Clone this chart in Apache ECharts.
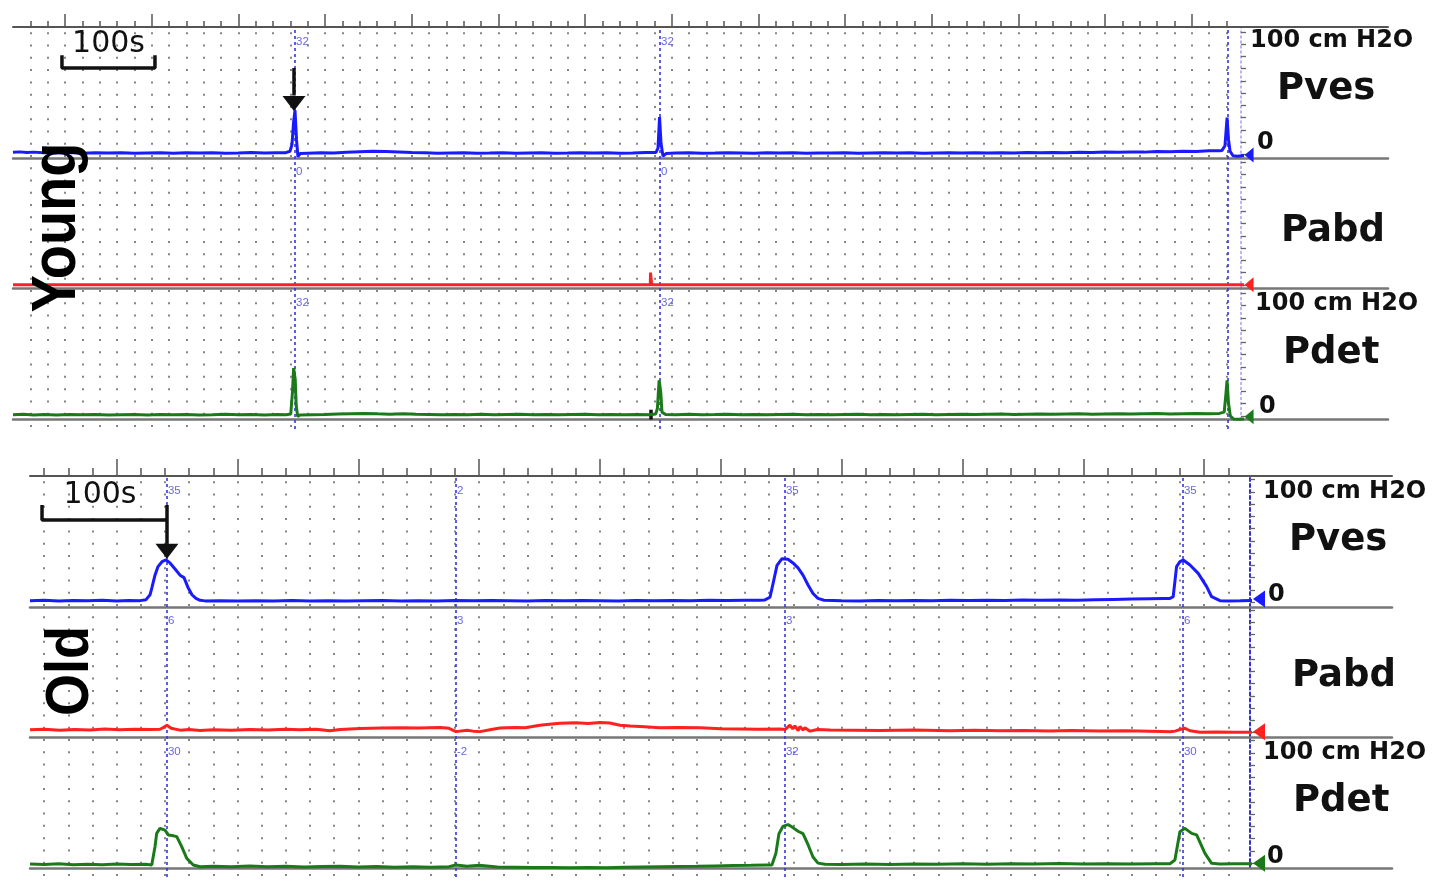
<!DOCTYPE html>
<html><head><meta charset="utf-8">
<script src="https://cdn.jsdelivr.net/npm/echarts@6/dist/echarts.min.js"></script>
<style>html,body{margin:0;padding:0;background:#fff}#c{width:1441px;height:889px}</style>
</head><body><div id="c"></div><script>
// ---------------- DATA (time in s, pressure in cm H2O) ----------------
const CHANNELS = ['Pves', 'Pabd', 'Pdet'];

const YOUNG_PVES = [[40,1.6],[48,2.0],[56,1.4],[64,1.8],[75,1.2],[90,1.1],[105,1.4],[120,0.9],[135,1.2],[150,1.0],[165,1.3],[180,0.8],[195,1.1],[210,1.3],[225,0.9],[240,1.2],[255,1.0],[270,1.3],[285,0.9],[300,1.1],[315,1.4],[330,1.0],[345,1.3],[353.8,1.2],[359.6,2.5],[361.9,8],[363.7,26],[365.4,36],[367.1,12],[368.8,-2],[371.2,0.6],[380,0.9],[395,1.2],[410,1.0],[425,1.6],[440,2.2],[455,2.6],[470,2.3],[485,2.0],[500,1.5],[515,1.2],[530,0.9],[545,1.1],[560,1.3],[575,0.9],[590,1.0],[605,1.2],[620,0.8],[635,1.1],[650,1.3],[665,0.9],[680,1.0],[695,1.3],[710,1.0],[725,1.2],[740,0.9],[755,1.1],[770,1.4],[781.9,1.5],[784.2,5],[786,30.5],[787.7,9],[790,-1.5],[793.5,0.6],[805,1.0],[820,1.2],[835,0.9],[850,1.0],[865,1.3],[880,1.1],[895,0.9],[910,1.2],[925,1.0],[940,1.3],[955,0.9],[970,1.1],[985,1.0],[1000,1.2],[1015,0.9],[1030,1.1],[1045,1.3],[1060,1.0],[1075,1.2],[1090,0.9],[1105,1.1],[1120,1.3],[1135,1.0],[1150,1.2],[1165,1.0],[1180,1.3],[1195,1.1],[1210,1.4],[1225,1.2],[1240,1.5],[1255,1.3],[1270,1.6],[1285,1.4],[1300,1.8],[1315,1.6],[1330,2.0],[1345,1.8],[1360,2.3],[1375,2.1],[1390,2.6],[1405,2.4],[1420,2.9],[1432,3.0],[1435,3.2],[1438.4,7],[1440.8,30],[1442.5,12],[1444.3,2.5],[1447.7,-1.2],[1453,-1.5],[1460.4,-1.0]];
const YOUNG_PABD = [[40,0],[200,0.1],[400,0],[600,0.1],[775.3,0],[775.6,10],[776.6,10],[776.9,0],[1000,0.1],[1200,0],[1460.4,0]];
const YOUNG_PDET = [[40,0.8],[52,1.2],[64,0.6],[76,1.0],[90,0.7],[105,1.1],[120,0.8],[135,1.0],[150,0.6],[165,0.9],[180,1.1],[195,0.7],[210,1.0],[225,0.8],[240,1.1],[255,0.7],[270,0.9],[285,1.2],[300,0.8],[315,1.0],[330,0.7],[345,1.1],[355,0.9],[360.5,1.5],[362.5,20],[363.8,39],[365.6,30],[366.8,8],[368.5,-0.5],[371,0.6],[385,0.9],[400,1.1],[415,1.4],[430,1.7],[445,2.0],[460,1.6],[475,1.3],[490,1.6],[505,1.2],[520,1.0],[535,0.8],[550,1.1],[565,0.9],[580,1.2],[595,0.8],[610,1.0],[625,1.2],[640,0.9],[655,1.1],[670,0.8],[685,1.0],[700,1.2],[715,0.9],[730,1.1],[745,0.8],[760,1.0],[775,0.9],[781.5,1.4],[783.5,6],[785.5,29],[787.3,20],[788.8,3],[790.5,4],[793,1.0],[805,0.9],[820,1.2],[835,0.8],[850,1.0],[865,1.3],[880,0.9],[895,1.1],[910,0.8],[925,1.0],[940,1.2],[955,0.9],[970,1.1],[985,0.8],[1000,1.0],[1015,1.2],[1030,0.9],[1045,1.1],[1060,0.8],[1075,1.0],[1090,1.2],[1105,0.9],[1120,1.1],[1135,1.3],[1150,1.0],[1165,1.2],[1180,1.4],[1195,1.1],[1210,1.3],[1225,1.5],[1240,1.2],[1255,1.4],[1270,1.6],[1285,1.3],[1300,1.5],[1315,1.7],[1330,1.4],[1345,1.6],[1360,1.8],[1375,1.5],[1390,1.7],[1405,1.9],[1420,1.6],[1432,2.0],[1437.5,3],[1439.5,18],[1440.8,29],[1442.5,10],[1444.5,0],[1448,-2.5],[1455,-2.8],[1460.4,-2.5]];

const OLD_PVES = [[28.25,1.2],[40,1.6],[52,1.0],[64,1.4],[76,1.1],[88,1.5],[100,1.0],[110,1.3],[119.3,1.2],[124.3,2],[127.6,6],[129.2,12],[131.7,22],[134.2,29],[137.5,33],[140.8,34.5],[144.1,32],[148.3,27],[152.4,22],[155.7,20],[159,12],[162.3,6],[165.6,3],[169,1.5],[173.1,1.0],[185,1.2],[200,0.9],[215,1.1],[230,1.0],[245,1.3],[260,1.0],[275,1.2],[290,0.9],[305,1.1],[320,1.3],[335,1.0],[350,1.2],[365,1.0],[380,1.3],[395,1.1],[410,1.4],[425,1.2],[440,1.0],[455,1.3],[470,1.1],[485,1.4],[500,1.2],[515,1.0],[530,1.3],[545,1.1],[560,1.4],[575,1.2],[590,1.5],[605,1.3],[620,1.6],[632,1.5],[636.5,1.8],[640.7,4],[643.2,15],[646.5,30],[650.6,35.5],[655.6,35],[659.7,32],[663.9,28],[668,22],[672.2,14],[676.3,7],[680.4,3],[685.4,1.5],[700,1.2],[715,1.0],[730,1.3],[745,1.1],[760,1.4],[775,1.2],[790,1.5],[805,1.3],[820,1.6],[835,1.4],[850,1.7],[865,1.5],[880,1.8],[895,1.6],[910,1.9],[925,2.2],[940,2.5],[955,2.8],[966,3.0],[971.7,3.0],[974.4,4.4],[977.2,29],[980,33],[982.7,34.4],[988.3,30.3],[995.1,23.5],[1002.1,12.6],[1006.2,4.4],[1013.1,1.2],[1020,1.0],[1030,1.1],[1039.6,1.3]];
const OLD_PABD = [[28.25,2.3],[40,2.8],[53,2.0],[65,2.6],[78,2.2],[90,2.9],[102.7,2.4],[115,2.7],[127.6,2.5],[135.8,2.7],[139.2,4.5],[141.6,6],[145,3.5],[152.4,2.0],[160,2.6],[169,1.8],[180,2.4],[195,2.0],[210.3,2.6],[225,2.2],[240,2.7],[251.7,2.4],[265,2.8],[276.5,1.6],[285,2.6],[301.4,3.4],[320,3.8],[334.5,4.0],[350,3.7],[367.6,4.2],[375,3.5],[380.8,0.8],[390,2.0],[395,1.2],[400.7,0.8],[410,2.5],[417.2,3.8],[430,4.2],[437.9,4.0],[450.3,6.0],[458,6.8],[466.9,7.6],[480,8.0],[490,7.4],[500,8.2],[508,7.8],[516.5,6.0],[525,5.4],[533.1,5.0],[540,4.6],[549.6,4.0],[565,4.2],[582.7,3.9],[600,3.2],[615.8,3.0],[630,2.8],[648.9,3.0],[653,2.5],[657.2,6],[659.5,3],[661.3,5.5],[664,1.5],[665.5,5],[668,2.2],[669.6,4],[673.8,1.2],[680,2.6],[690.3,2.2],[710,2.0],[731.7,1.8],[760,2.1],[789.6,1.6],[810,1.9],[831,1.5],[850,1.8],[872.4,1.4],[890,1.7],[913.8,1.3],[935,1.6],[955.1,1.2],[965,1.0],[971.7,0.7],[976,1.2],[980,2.5],[984.1,3.5],[988.3,1.5],[996.6,0.3],[1010,0.4],[1025,0.2],[1039.6,0.3]];
const OLD_PDET = [[28.25,-0.8],[40,-1.2],[52,-0.6],[64,-1.4],[76,-0.9],[88,-1.3],[100,-0.8],[112,-1.2],[124,-1.0],[129,-1.5],[131.7,13.4],[133.1,24.3],[135.8,28.4],[140,27],[142.7,23],[145.8,22.5],[149.7,21.6],[153.8,13.4],[158,3.9],[163.4,-1.5],[169,-3],[180,-2.6],[195,-3.0],[210,-2.4],[225,-2.9],[240,-2.5],[255,-3.1],[270,-2.7],[285,-2.5],[300,-3.2],[315,-2.8],[330,-3.3],[345,-3.0],[360,-3.4],[375,-2.9],[380.8,-1.5],[390,-2.6],[400,-1.8],[415,-3.2],[430,-3.4],[445,-3.6],[460,-3.5],[475,-3.7],[490,-3.6],[505,-3.7],[520,-3.4],[535,-3.2],[550,-3.0],[565,-2.8],[580,-2.6],[595,-2.3],[610,-2.0],[625,-1.8],[638,-1.5],[642.3,-1.5],[645.6,8],[648.1,24],[651.4,30],[655.6,31.5],[659.7,29],[663.9,26],[668,24],[672.2,15],[676.3,5],[680.4,0],[686.2,-1],[700,-1.2],[720,-0.8],[740,-1.1],[760,-0.7],[780,-1.0],[800,-0.6],[820,-0.9],[840,-0.5],[860,-0.8],[880,-0.4],[900,-0.7],[920,-0.5],[940,-0.8],[960,-0.6],[971.7,-0.5],[975.8,2.5],[980,25.7],[984.1,28.4],[989.7,24.3],[993.8,23],[1000.7,8],[1006.2,-0.2],[1013.1,-0.7],[1025,-0.6],[1039.6,-0.5]];

// event marker times and the values printed beside them (Pves, Pabd, Pdet)
const YOUNG_MARKERS = [365.4, 786.5, 1442];
const YOUNG_MARKER_TEXT = [['32','32',''], ['0','0',''], ['32','32','']];
const OLD_MARKERS = [141.6, 380.8, 653.1, 982.5];
const OLD_MARKER_TEXT = [['35','2','35','35'], ['6','3','3','6'], ['30','-2','32','30']];

// cursor (end) values for the triangles
const YOUNG_END = [-0.5, 0, -0.7];
const OLD_END = [2.5, 0.7, -0.2];

// arrows (time, shaft top, head value) and 100 s scale bars
const YOUNG_ARROW = {t: 364.2, top: 70.5, shaftEnd: 48, head: 41.5};
const OLD_ARROW = {t: 141.6, top: 79.3, shaftEnd: 47.5, head: 41.5};
const YOUNG_SCALEBAR = [[96.5, 81], [96.5, 70.5], [203.8, 70.5], [203.8, 81]];
const OLD_SCALEBAR = [[38.2, 79.3], [38.2, 67.1], [141.6, 67.1]];
const YOUNG_TICK_MARK = {t: 776.2, from: 5, to: -3};

// axis ticks (s) and y ticks (cm H2O)
function range(a, b, s) { const r = []; for (let v = a; v <= b + 1e-9; v += s) r.push(v); return r; }
const YOUNG_MINOR = range(60, 1440, 20), YOUNG_MAJOR = range(100, 1400, 100);
const OLD_MINOR = range(40, 1020, 20), OLD_MAJOR = range(100, 1000, 100);
const Y_TICKS = range(0, 100, 10);

// ---------------- LAYOUT ----------------
const COLORS = ['#1a1aff', '#ff2020', '#1a7a1a'];
const PANELS = [
  {left: 13, right: 53, top: 27, pH: 402, chTops: [27, 157.5, 288.5], xMin: 40, xMax: 1626.5, yMin: -3,
   axisOffset: -147, minor: YOUNG_MINOR, major: YOUNG_MAJOR, minorLen: 6, majorLen: 13,
   traces: [YOUNG_PVES, YOUNG_PABD, YOUNG_PDET], markers: YOUNG_MARKERS, mtext: YOUNG_MARKER_TEXT,
   ends: YOUNG_END, triT: 1466.2, triSize: [15, 9], arrow: YOUNG_ARROW, bar: YOUNG_SCALEBAR,
   axisStyle: {color: '#a0a0f0', width: 1.5, type: [2, 3]}, young: true},
  {left: 30, right: 49, top: 476, pH: 401, chTops: [476, 606.5, 737], xMin: 28.25, xMax: 1155.5, yMin: -4,
   axisOffset: -142, minor: OLD_MINOR, major: OLD_MAJOR, minorLen: 8, majorLen: 17,
   traces: [OLD_PVES, OLD_PABD, OLD_PDET], markers: OLD_MARKERS, mtext: OLD_MARKER_TEXT,
   ends: OLD_END, triT: 1045.4, triSize: [17, 12], arrow: OLD_ARROW, bar: OLD_SCALEBAR,
   axisStyle: {color: '#3030d0', width: 2, type: [3, 3]}, young: false}
];

const grid = [], xAxis = [], yAxis = [], series = [];
const off = {show: false};

PANELS.forEach(p => {
  const gi = grid.length, xi = xAxis.length, yi = yAxis.length;
  grid.push({left: p.left, right: p.right, top: p.top, height: p.pH});
  xAxis.push({gridIndex: gi, type: 'value', min: p.xMin, max: p.xMax, position: 'top',
    axisLine: {show: true, onZero: false, lineStyle: {color: '#555', width: 2}},
    axisTick: {show: true, customValues: p.minor, length: p.minorLen, lineStyle: {color: '#555', width: 1.5}},
    axisLabel: off,
    splitLine: {show: true, lineStyle: {color: '#858585', width: 2, type: [2, 10.27], dashOffset: 6.97}}});
  xAxis.push({gridIndex: gi, type: 'value', min: p.xMin, max: p.xMax, position: 'top',
    axisLine: {show: false, onZero: false},
    axisTick: {show: true, customValues: p.major, length: p.majorLen, lineStyle: {color: '#555', width: 1.5}},
    axisLabel: off, splitLine: off});
  yAxis.push({gridIndex: gi, type: 'value', min: 0, max: 1, show: false});
  series.push({type: 'scatter', xAxisIndex: xi, yAxisIndex: yi, symbolSize: 0, silent: true,
    data: p.markers.map(t => [t, 0.5]),
    markLine: {silent: true, symbol: 'none', label: off, animation: false,
      lineStyle: {color: '#3535e0', width: 1.6, type: [3, 3]},
      data: p.markers.map(t => ({xAxis: t}))}});

  p.chTops.forEach((top, c) => {
    const g = grid.length, x = xAxis.length, y = yAxis.length;
    grid.push({left: p.left, right: p.right, top: top, height: 131});
    xAxis.push({gridIndex: g, type: 'value', min: p.xMin, max: p.xMax, position: 'bottom',
      axisLine: {show: true, onZero: false, lineStyle: {color: '#777', width: 2.5}},
      axisTick: off, axisLabel: off, splitLine: off});
    yAxis.push({gridIndex: g, type: 'value', min: p.yMin, max: p.yMin + 107, position: 'right', offset: p.axisOffset,
      axisLine: {show: true, onZero: false, lineStyle: p.axisStyle},
      axisTick: {show: true, customValues: Y_TICKS, length: 5, lineStyle: {color: '#666', width: 1.3}},
      axisLabel: off, splitLine: off});
    const mp = [{coord: [p.triT, p.ends[c]], symbol: 'triangle', symbolRotate: 90, symbolSize: p.triSize,
      itemStyle: {color: COLORS[c]}}];
    const ml = [];
    if (c === 0) {
      mp.push({coord: [p.arrow.t, p.arrow.head], symbol: 'triangle', symbolRotate: 180, symbolSize: [23, 15],
        itemStyle: {color: '#111'}});
      ml.push([{coord: [p.arrow.t, p.arrow.top]}, {coord: [p.arrow.t, p.arrow.shaftEnd]}]);
    }
    if (c === 2 && p.young) {
      ml.push([{coord: [YOUNG_TICK_MARK.t, YOUNG_TICK_MARK.from]}, {coord: [YOUNG_TICK_MARK.t, YOUNG_TICK_MARK.to]}]);
    }
    series.push({type: 'line', xAxisIndex: x, yAxisIndex: y, data: p.traces[c], showSymbol: false, symbol: 'none',
      lineStyle: {color: COLORS[c], width: 3}, itemStyle: {color: COLORS[c]}, z: 5,
      markPoint: {silent: true, label: off, animation: false, data: mp},
      markLine: {silent: true, symbol: 'none', label: off, animation: false,
        lineStyle: {color: '#111', width: 3.5, type: 'solid'}, data: ml}});
    series.push({type: 'scatter', xAxisIndex: x, yAxisIndex: y, symbolSize: 0, silent: true, z: 6,
      data: p.markers.map((t, i) => [t, p.yMin + 95, p.mtext[c][i]]).filter(d => d[2] !== ''),
      label: {show: true, position: 'right', distance: 1, color: '#4040dd', fontSize: 11.5,
        fontFamily: 'Liberation Sans', formatter: q => q.data[2]}});
    if (c === 0) {
      series.push({type: 'line', xAxisIndex: x, yAxisIndex: y, data: p.bar, showSymbol: false, symbol: 'none',
        lineStyle: {color: '#111', width: 3.5}, z: 7});
    }
  });
});

// ---------------- TEXT ----------------
function txt(text, x, y, size, bold, align) {
  return {type: 'text', x: x, y: y, z: 100, silent: true,
    style: {text: text, fill: '#111', font: (bold ? 'bold ' : '') + size + 'px "DejaVu Sans"',
      textAlign: align || 'left', textVerticalAlign: 'middle'}};
}
const graphic = [
  txt('100 cm H2O', 1250, 41, 24, true), txt('Pves', 1277, 89, 37, true), txt('0', 1257, 143, 24, true),
  txt('Pabd', 1281, 231, 37, true),
  txt('100 cm H2O', 1255, 304, 24, true), txt('Pdet', 1283, 353, 37, true), txt('0', 1259, 407, 24, true),
  txt('100 cm H2O', 1263, 492, 24, true), txt('Pves', 1289, 540, 37, true), txt('0', 1268, 595, 24, true),
  txt('Pabd', 1292, 676, 37, true),
  txt('100 cm H2O', 1263, 753, 24, true), txt('Pdet', 1293, 801, 37, true), txt('0', 1267, 857, 24, true),
  txt('100s', 108.5, 44, 30, false, 'center'), txt('100s', 100, 495.5, 30, false, 'center'),
  {type: 'text', x: 57.5, y: 227.5, rotation: Math.PI / 2, scaleY: 1.12, z: 100, silent: true,
    style: {text: 'Young', fill: '#000', font: 'bold 56px "Liberation Sans"', textAlign: 'center', textVerticalAlign: 'middle'}},
  {type: 'text', x: 71, y: 671, rotation: Math.PI / 2, scaleY: 1.12, z: 100, silent: true,
    style: {text: 'Old', fill: '#000', font: 'bold 54px "Liberation Sans"', textAlign: 'center', textVerticalAlign: 'middle'}}
];

const chart = echarts.init(document.getElementById('c'));
chart.setOption({animation: false, backgroundColor: '#fff', grid, xAxis, yAxis, series, graphic});
</script></body></html>
